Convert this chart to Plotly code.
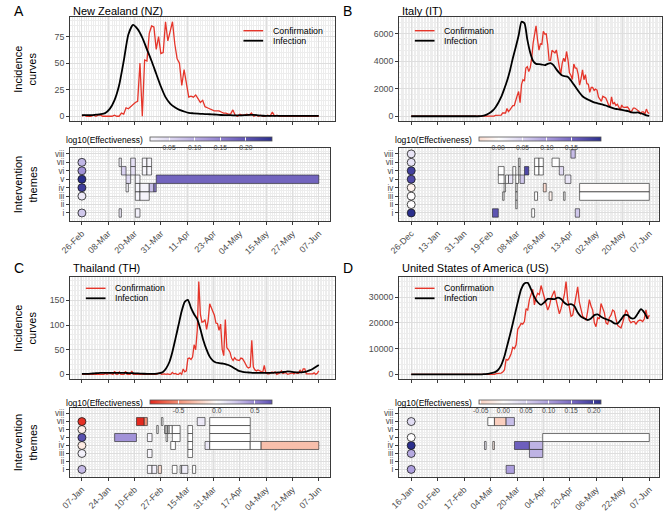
import plotly.graph_objects as go
import pandas as pd

W, H = 668, 517
FONT = "Liberation Sans, Arial, sans-serif"
RED = "#E5352A"
TXT_GRAY = "#4D4D4D"
THEME_LABELS = ["i", "ii", "iii", "iv", "v", "vi", "vii", "viii"]

# ---------------- New Zealand ----------------
NZ_NAME = "New Zealand (NZ)"
NZ_START, NZ_END = "2020-02-26", "2020-06-07"
NZ_XTICKS = ["26-Feb", "08-Mar", "20-Mar", "31-Mar", "11-Apr", "23-Apr", "04-May", "15-May", "27-May", "07-Jun"]
NZ_YTICKS = [0, 25, 50, 75]
NZ_CONF = [0, 1, 0, 0, 0, 1, 0, 1, 1, 0,
           0, 0, 0, 0, 1, 0, 0, 3, 2, 8,
           7, 9, 11, 13, 14, 50, 0, 53, 52, 78,
           85, 84, 63, 75, 59, 60, 89, 71, 80, 89,
           68, 54, 50, 29, 44, 29, 18, 19, 18, 20,
           16, 13, 15, 9, 8, 7, 6, 5, 5, 5,
           4, 3, 3, 2, 2, 6, 1, 0, 2, 1,
           1, 2, 1, 3, 0, 1, 0, 1, 0, 0,
           1, 0, 4, 0, 1, 0, 0, 0, 0, 0,
           0, 0, 0, 0, 0, 0, 0, 0, 0, 0,
           0, 0, 0]
NZ_INF = [1, 1, 1, 1.5, 2, 3, 7, 15, 29, 52,          # every second day
          77, 86, 82, 74, 63, 52, 40, 28, 18, 12,
          8.5, 6, 4.5, 3.2, 2.8, 2.5, 2.2, 2, 1.8, 1.5,
          1.2, 1, 1, 0.8, 0.8, 1, 1.3, 1.3, 0.8, 0.5,
          0.3, 0.3, 0.3, 0.3, 0.3, 0.3, 0.3, 0.3, 0.3, 0.3,
          0.3, 0.3]
NZ_POINT_THEMES = [1, 3, 4, 5, 6, 7]
NZ_POINT_EFF = [0.07, 0.03, 0.23, 0.25, 0.13, 0.09]
NZ_ITV = [  # (theme, start, end, log10 effectiveness)
    (7, "2020-03-13", "2020-03-14", 0.02), (7, "2020-03-18", "2020-03-20", 0.04),
    (6, "2020-03-18", "2020-03-20", 0.04), (7, "2020-03-23", "2020-03-25", 0.012),
    (7, "2020-03-25", "2020-03-27", 0.012), (6, "2020-03-23", "2020-03-25", 0.012),
    (6, "2020-03-25", "2020-03-27", 0.012), (6, "2020-03-14", "2020-03-16", 0.06),
    (5, "2020-03-16", "2020-03-18", 0.05), (4, "2020-03-16", "2020-03-17", 0.012),
    (5, "2020-03-20", "2020-03-22", 0.012), (4, "2020-03-20", "2020-03-22", 0.012),
    (3, "2020-03-20", "2020-03-22", 0.012), (4, "2020-03-22", "2020-03-26", 0.015),
    (3, "2020-03-22", "2020-03-26", 0.015), (4, "2020-03-26", "2020-03-28", 0.08),
    (4, "2020-03-28", "2020-03-29", 0.15), (5, "2020-03-29", "2020-06-07", 0.18),
    (1, "2020-03-13", "2020-03-14", 0.03), (1, "2020-03-20", "2020-03-22", 0.02),
]
NZ_CB_TICKS = [0.05, 0.10, 0.15, 0.20]
NZ_CB_LABELS = ["0.05", "0.10", "0.15", "0.20"]

# ---------------- Italy ----------------
IT_NAME = "Italy (IT)"
IT_START, IT_END = "2019-12-26", "2020-06-07"
IT_XTICKS = ["26-Dec", "13-Jan", "31-Jan", "19-Feb", "08-Mar", "26-Mar", "13-Apr", "02-May", "20-May", "07-Jun"]
IT_YTICKS = [0, 2000, 4000, 6000]
IT_CONF = [0, 0, 0, 0, 0, 0, 0, 0, 0, 0, 0, 0, 0, 0, 0, 0, 0, 0, 0, 0,
           0, 0, 0, 0, 0, 0, 0, 0, 0, 0, 0, 0, 0, 0, 0, 0,
           2, 0, 0, 0, 0, 0, 0, 1, 0, 0, 0, 0, 0, 0, 0, 0, 0, 0, 0, 0, 0,
           17, 59, 73, 77, 93, 78, 250, 238, 240,
           566, 342, 466, 587, 769, 778, 1247, 1492, 1797, 977, 2313, 2651, 2547, 3497, 3590, 3233,
           3526, 4207, 5322, 5986, 6557, 5560, 4789, 5249, 5210, 6153, 5959, 5974, 5217, 4050, 4053,
           4782, 4668, 4585, 4805, 4316, 3599, 3039, 3836, 4204, 3951, 4694, 4092, 3153, 2972, 2667,
           3786, 3493, 3491, 3047, 2256, 2729, 3370, 2646, 3021, 2357, 2324, 1739, 2091, 2086, 1872,
           1965, 1900, 1389, 1221, 1075, 1444, 1401, 1327, 1083, 802, 744, 1402, 888, 992, 789, 875,
           675, 451, 813, 665, 642, 652, 669, 531, 300, 397, 584, 593, 516, 416, 355,
           178, 318, 321, 177, 518, 270, 197]
IT_INF = [0, 0, 0, 0, 0, 0, 0, 0, 0, 0, 0, 0, 0, 0, 0, 0, 0, 0, 0, 0, 0, 0, 0, 0,
          15, 50, 120, 230, 400, 640, 980, 1400, 1950, 2550,
          3300, 4200, 5000, 5850, 6850, 6750, 5550, 4600, 4000, 3800,
          3780, 3750, 3700, 3800, 3850, 3700, 3400, 3150, 2950, 2900,
          2850, 2600, 2300, 2000, 1700, 1450, 1300, 1200, 1100, 1000,
          950, 900, 850, 780, 700, 620, 560, 520, 480, 440,
          400, 350, 280, 260, 280, 220, 150, 60, 30]
IT_POINT_THEMES = [1, 2, 3, 4, 5, 6, 7, 8]
IT_POINT_EFF = [0.21, 0.0, 0.0, -0.015, 0.18, 0.19, 0.03, 0.03]
IT_ITV = [
    (8, "2020-04-14", "2020-04-17", 0.07), (7, "2020-03-09", "2020-03-10", 0.0),
    (6, "2020-03-09", "2020-03-10", 0.0), (7, "2020-03-20", "2020-03-23", 0.0),
    (7, "2020-03-23", "2020-03-26", 0.0), (6, "2020-03-20", "2020-03-23", 0.0),
    (6, "2020-03-23", "2020-03-26", 0.0), (7, "2020-04-01", "2020-04-06", 0.0),
    (6, "2020-02-24", "2020-02-28", 0.0), (5, "2020-02-24", "2020-02-28", 0.0),
    (6, "2020-03-05", "2020-03-07", 0.0), (6, "2020-03-13", "2020-03-16", 0.18),
    (6, "2020-04-06", "2020-04-09", 0.04), (5, "2020-02-29", "2020-03-02", 0.0),
    (5, "2020-03-02", "2020-03-05", 0.03), (5, "2020-03-07", "2020-03-09", 0.0),
    (5, "2020-03-10", "2020-03-13", 0.06), (5, "2020-04-10", "2020-04-14", 0.03),
    (4, "2020-02-28", "2020-02-29", 0.0), (4, "2020-03-07", "2020-03-08", 0.0),
    (4, "2020-03-26", "2020-03-28", -0.04), (4, "2020-04-20", "2020-06-07", -0.003),
    (3, "2020-02-27", "2020-02-28", 0.0), (3, "2020-03-07", "2020-03-08", 0.0),
    (3, "2020-03-20", "2020-03-22", 0.0), (3, "2020-03-30", "2020-04-01", -0.015),
    (3, "2020-04-09", "2020-04-10", 0.0), (3, "2020-04-20", "2020-06-07", 0.0),
    (2, "2020-03-07", "2020-03-08", 0.0), (1, "2020-02-20", "2020-02-24", 0.17),
    (1, "2020-03-18", "2020-03-20", 0.0), (1, "2020-04-17", "2020-04-20", 0.06),
]
IT_CB_TICKS = [0.0, 0.05, 0.10, 0.15]
IT_CB_LABELS = ["0.00", "0.05", "0.10", "0.15"]

# ---------------- Thailand ----------------
TH_NAME = "Thailand (TH)"
TH_START, TH_END = "2020-01-07", "2020-06-07"
TH_XTICKS = ["07-Jan", "24-Jan", "10-Feb", "27-Feb", "15-Mar", "31-Mar", "17-Apr", "04-May", "21-May", "07-Jun"]
TH_YTICKS = [0, 50, 100, 150]
TH_CONF = [0, 0, 0, 0, 0, 0, 1, 0, 0, 0, 1, 0, 0, 0, 0, 2, 0, 1, 2, 1, 0, 6, 0, 0, 5,
           0, 0, 0, 6, 0, 0, 0, 7, 0, 0, 0, 1, 0, 1, 0, 0, 1, 0, 0, 0, 0, 0, 0, 0, 2, 3, 0, 1, 1,
           0, 1, 0, 0, 4, 1, 2, 0, 0, 3, 0, 11, 5, 7, 32, 33, 30, 35, 60, 50,
           89, 188, 122, 106, 107, 111, 91, 109, 143, 136, 127,
           120, 104, 103, 89, 102, 51, 38, 111, 54, 50, 45, 33, 28, 34, 30, 29, 28, 33, 32, 27,
           19, 15, 13, 15, 69, 15, 9, 7, 9, 7,
           6, 4, 18, 3, 1, 1, 3, 5, 3, 5, 0, 1, 3, 7, 2, 3, 3, 0, 1, 3,
           3, 1, 4, 2, 2, 9, 3, 11, 11, 1, 1,
           1, 1, 1, 3, 0, 2, 7]
TH_INF = [1, 1, 1, 1.5, 2, 2.5, 3, 3, 3, 3,
          3, 3, 3, 3, 3, 2.5, 2.5, 2, 2, 1.5,
          1.2, 1, 1, 1, 1.5, 2.5, 5, 12, 24, 45,
          72, 100, 128, 147, 151, 135, 122, 112, 92, 68,
          50, 36, 28, 24, 23, 22, 21, 19, 16, 12,
          8, 6, 4.5, 4, 3.5, 3, 3, 3, 3, 3,
          3, 3, 3.5, 4, 4, 5, 6, 5.5, 4.5, 4,
          4, 4.5, 5.5, 8, 11, 15, 19]
TH_POINT_THEMES = [1, 3, 4, 5, 6, 7]
TH_POINT_EFF = [0.3, 0.07, -0.1, 0.72, -0.08, -0.85]
TH_ITV = [
    (7, "2020-02-11", "2020-02-16", -0.88), (7, "2020-02-16", "2020-02-18", -0.5),
    (7, "2020-02-27", "2020-02-28", 0.0), (7, "2020-03-21", "2020-03-26", 0.1),
    (7, "2020-03-29", "2020-04-24", 0.0), (6, "2020-02-24", "2020-02-25", 0.0),
    (6, "2020-02-29", "2020-03-01", 0.0), (6, "2020-03-01", "2020-03-02", 0.0),
    (6, "2020-03-02", "2020-03-03", 0.0), (6, "2020-03-03", "2020-03-05", 0.0),
    (6, "2020-03-05", "2020-03-10", 0.0), (5, "2020-03-05", "2020-03-10", 0.0),
    (6, "2020-03-15", "2020-03-18", 0.0), (5, "2020-03-15", "2020-03-18", 0.0),
    (4, "2020-03-15", "2020-03-18", 0.0), (3, "2020-03-15", "2020-03-18", 0.0),
    (6, "2020-03-29", "2020-04-24", 0.0), (5, "2020-03-29", "2020-04-24", 0.0),
    (5, "2020-01-28", "2020-02-11", 0.45), (5, "2020-02-18", "2020-02-21", 0.04),
    (5, "2020-03-01", "2020-03-02", 0.0), (4, "2020-03-04", "2020-03-07", 0.0),
    (4, "2020-03-26", "2020-03-29", 0.1), (4, "2020-03-29", "2020-04-24", 0.0),
    (4, "2020-04-24", "2020-05-01", 0.0), (4, "2020-05-01", "2020-06-07", -0.3),
    (3, "2020-02-18", "2020-02-21", 0.04), (1, "2020-02-18", "2020-02-21", 0.04),
    (1, "2020-02-21", "2020-02-24", 0.07), (1, "2020-02-25", "2020-02-27", -0.15),
    (1, "2020-03-05", "2020-03-08", 0.0), (1, "2020-03-10", "2020-03-11", 0.0),
    (1, "2020-03-11", "2020-03-15", 0.08), (1, "2020-03-18", "2020-03-20", 0.0),
]
TH_CB_TICKS = [-0.5, 0.0, 0.5]
TH_CB_LABELS = ["-0.5", "0.0", "0.5"]

# ---------------- United States ----------------
US_NAME = "United States of America (US)"
US_START, US_END = "2020-01-16", "2020-06-07"
US_XTICKS = ["16-Jan", "01-Feb", "17-Feb", "04-Mar", "20-Mar", "04-Apr", "20-Apr", "06-May", "22-May", "07-Jun"]
US_YTICKS = [0, 10000, 20000, 30000]
US_CONF = [0, 0, 0, 0, 0, 0, 0, 0, 0, 0, 0, 0, 0, 0, 0, 0, 0, 0, 0, 0, 0, 0, 0, 0, 0,
           0, 0, 0, 0, 0, 0, 0, 0, 0, 0, 0, 0, 0, 0, 0, 0, 0, 0, 0, 0, 0, 0, 0, 0, 0, 0,
           300, 350, 400, 500, 900, 1700, 5800, 5500, 6500, 8000,
           10500, 10000, 11500, 17500, 18500, 19800, 19500, 20500, 25500, 25000,
           29000, 31000, 33000, 27000, 30000, 31500, 31000, 34500, 32000, 29000,
           27500, 25000, 26500, 29500, 31000, 32500, 29000, 26000, 23500, 25500,
           28500, 31000, 36000, 29000, 26000, 22500, 23000, 26500, 30000, 34000,
           28000, 25000, 22500, 22000, 21000, 24500, 29000, 26500, 25000, 20000,
           18500, 22000, 21500, 27500, 26000, 24000, 20000, 19500, 22000, 23000,
           25000, 24500, 21500, 19000, 18500, 18000, 20000, 22500, 25000, 24000,
           21000, 20000, 20500, 20500, 19500, 20500, 21000, 21000, 20500, 21500,
           25000, 21500, 23000]
US_INF = [0, 0, 0, 0, 0, 0, 0, 0, 0, 0, 0, 0, 0, 0, 0, 0, 0, 0, 0, 0, 0, 0,
          100, 200, 450, 800, 1600, 3500, 7000, 12000, 17000, 22500,
          28000, 33000, 35300, 35500, 33000, 30000, 28000, 27000, 28000, 29300,
          29300, 29200, 29800, 29300, 27800, 27000, 27300, 26500, 24000, 22400,
          21700, 21100, 21700, 23000, 23300, 22400, 21700, 21200, 20700, 19800,
          19800, 21300, 23000, 23000, 21800, 21800, 23500, 25300, 24000, 21500]
US_POINT_THEMES = [1, 3, 4, 5, 7]
US_POINT_EFF = [0.1, 0.09, 0.215, 0.0, 0.04]
US_ITV = [
    (7, "2020-03-02", "2020-03-06", 0.0), (7, "2020-03-06", "2020-03-13", -0.055),
    (7, "2020-03-13", "2020-03-18", 0.07), (5, "2020-04-04", "2020-06-07", 0.0),
    (4, "2020-02-29", "2020-03-01", 0.02), (4, "2020-03-05", "2020-03-06", -0.02),
    (4, "2020-03-18", "2020-03-27", 0.16), (4, "2020-03-27", "2020-04-04", 0.08),
    (3, "2020-03-27", "2020-04-04", 0.08), (1, "2020-03-13", "2020-03-18", 0.1),
]
US_CB_TICKS = [-0.05, 0.0, 0.05, 0.10, 0.15, 0.20]
US_CB_LABELS = ["-0.05", "0.00", "0.05", "0.10", "0.15", "0.20"]

PANELS = [
    dict(letter="A", name=NZ_NAME, start=NZ_START, end=NZ_END, xt=NZ_XTICKS, yt=NZ_YTICKS, conf=NZ_CONF,
         inf=NZ_INF, pth=NZ_POINT_THEMES, peff=NZ_POINT_EFF, itv=NZ_ITV, cbt=NZ_CB_TICKS, cbl=NZ_CB_LABELS,
         leg=(237, 257, 265, 30.7, 40.7)),
    dict(letter="B", name=IT_NAME, start=IT_START, end=IT_END, xt=IT_XTICKS, yt=IT_YTICKS, conf=IT_CONF,
         inf=IT_INF, pth=IT_POINT_THEMES, peff=IT_POINT_EFF, itv=IT_ITV, cbt=IT_CB_TICKS, cbl=IT_CB_LABELS,
         leg=(411, 431, 439, 30.7, 40.7)),
    dict(letter="C", name=TH_NAME, start=TH_START, end=TH_END, xt=TH_XTICKS, yt=TH_YTICKS, conf=TH_CONF,
         inf=TH_INF, pth=TH_POINT_THEMES, peff=TH_POINT_EFF, itv=TH_ITV, cbt=TH_CB_TICKS, cbl=TH_CB_LABELS,
         leg=(77, 97, 105, 288.3, 298.3)),
    dict(letter="D", name=US_NAME, start=US_START, end=US_END, xt=US_XTICKS, yt=US_YTICKS, conf=US_CONF,
         inf=US_INF, pth=US_POINT_THEMES, peff=US_POINT_EFF, itv=US_ITV, cbt=US_CB_TICKS, cbl=US_CB_LABELS,
         leg=(411, 431, 439, 288.3, 298.3)),
]

# ---------------- styling / geometry ----------------
STOPS = [(0.0, (228, 40, 30)), (0.125, (238, 105, 80)), (0.25, (245, 160, 135)), (0.375, (250, 208, 192)),
         (0.5, (255, 255, 255)), (0.625, (214, 207, 238)), (0.75, (165, 150, 217)), (0.875, (108, 94, 188)),
         (1.0, (42, 46, 140))]


def interp_color(t):
    t = min(1.0, max(0.0, t))
    for (t0, c0), (t1, c1) in zip(STOPS[:-1], STOPS[1:]):
        if t <= t1:
            f = (t - t0) / (t1 - t0)
            return "rgb(%d,%d,%d)" % tuple(round(a + (b - a) * f) for a, b in zip(c0, c1))
    return "rgb(%d,%d,%d)" % STOPS[-1][1]


def eff_color(v, lo, hi):
    m = max(abs(lo), abs(hi))
    return interp_color(0.5 + v / (2 * m))


def px_x(a):
    return a / W


def px_y(a):
    return 1 - a / H


def fmt(ts):
    return ts.strftime("%Y-%m-%d %H:%M:%S")


COL_OFF = [0, 334]
TOP_XDOM = [(61, 330), (395, 662)]
BOT_XDOM = [(61, 325), (395, 659)]
TICK_PX = [(73, 313.5), (407.3, 649)]
TOP_YDOM = [(17, 121), (277, 379)]
BOT_YDOM = [(148, 221), (408, 477)]
CB_TOP = [136.5, 399.5]
CB_TITLE_Y = [139.5, 402.5]
TITLE_Y = [11, 268]
MAJOR = "#DEDEDE"
MINOR = "#EDEDED"
FRAME = "#3A3A3A"

fig = go.Figure()
layout = dict(width=W, height=H, margin=dict(l=0, r=0, t=0, b=0), autosize=False,
              paper_bgcolor="white", plot_bgcolor="white", showlegend=False,
              font=dict(family=FONT, size=9, color="black"))
shapes, annotations = [], []

for k, p in enumerate(PANELS):
    col, row = k % 2, k // 2
    it, ib = 2 * k + 1, 2 * k + 2
    xt_ref = "x" if it == 1 else "x%d" % it
    yt_ref = "y" if it == 1 else "y%d" % it
    xb_ref, yb_ref = "x%d" % ib, "y%d" % ib
    ts0, ts1 = pd.Timestamp(p["start"]), pd.Timestamp(p["end"])
    span = ts1 - ts0
    tickvals = [fmt(ts0 + span * i / 9) for i in range(10)]
    t0px, t1px = TICK_PX[col]
    ppd = (t1px - t0px) / span.days

    def xrange(dom):
        return [fmt(ts0 - pd.Timedelta(days=(t0px - dom[0]) / ppd)),
                fmt(ts1 + pd.Timedelta(days=(dom[1] - t1px) / ppd))]

    # --- incidence curves ---
    conf_dates = pd.date_range(p["start"], periods=len(p["conf"]), freq="D")
    inf_dates = pd.date_range(p["start"], periods=len(p["inf"]), freq="2D")
    fig.add_trace(go.Scatter(x=conf_dates, y=p["conf"], mode="lines", name="Confirmation",
                             line=dict(color=RED, width=1.3), xaxis=xt_ref, yaxis=yt_ref))
    fig.add_trace(go.Scatter(x=inf_dates, y=p["inf"], mode="lines", name="Infection",
                             line=dict(color="black", width=1.8, shape="spline", smoothing=0.6),
                             xaxis=xt_ref, yaxis=yt_ref))
    ymax = max(max(p["conf"]), max(p["inf"]))

    # --- interventions ---
    all_eff = list(p["peff"]) + [e for _, _, _, e in p["itv"]]
    lo, hi = min(all_eff), max(all_eff)
    cs = [[i / 30, eff_color(lo + (hi - lo) * i / 30, lo, hi)] for i in range(31)]
    fig.add_trace(go.Scatter(
        x=[p["start"]] * len(p["pth"]), y=p["pth"], mode="markers", cliponaxis=False,
        marker=dict(size=8, color=p["peff"], colorscale=cs, cmin=lo, cmax=hi,
                    line=dict(color="#1A1A1A", width=0.8), showscale=True,
                    colorbar=dict(orientation="h", x=px_x(141.7 + COL_OFF[col]), xanchor="left",
                                  y=px_y(CB_TOP[row]), yanchor="top", len=121.6, lenmode="pixels",
                                  thickness=4.2, thicknessmode="pixels", xpad=0, ypad=0,
                                  outlinewidth=0.8, outlinecolor="#555555", borderwidth=0,
                                  tickvals=p["cbt"], ticktext=p["cbl"], ticks="inside", ticklen=4,
                                  tickcolor="white", tickwidth=0.8,
                                  tickfont=dict(size=6.8, color=TXT_GRAY, family=FONT))),
        xaxis=xb_ref, yaxis=yb_ref))
    for theme, s, e, eff in p["itv"]:
        shapes.append(dict(type="rect", xref=xb_ref, yref=yb_ref, x0=s, x1=e, y0=theme - 0.5, y1=theme + 0.5,
                           fillcolor=eff_color(eff, lo, hi), line=dict(color="rgba(40,40,40,0.8)", width=0.8),
                           layer="between"))

    # --- axes ---
    common_x = dict(type="date", tickvals=tickvals, ticks="outside", ticklen=3, tickcolor=FRAME, tickwidth=0.8,
                    showline=True, mirror=True, linecolor=FRAME, linewidth=1, zeroline=False,
                    showgrid=True, gridcolor=MAJOR, gridwidth=0.8,
                    minor=dict(dtick=86400000, showgrid=True, gridcolor=MINOR, gridwidth=0.6))
    xa_top = dict(common_x, domain=[px_x(TOP_XDOM[col][0]), px_x(TOP_XDOM[col][1])],
                  range=xrange(TOP_XDOM[col]), showticklabels=False, anchor=yt_ref)
    xa_bot = dict(common_x, domain=[px_x(BOT_XDOM[col][0]), px_x(BOT_XDOM[col][1])],
                  range=xrange(BOT_XDOM[col]), ticktext=p["xt"], tickangle=-45,
                  tickfont=dict(size=8.8, color=TXT_GRAY), anchor=yb_ref)
    ystep = p["yt"][1] - p["yt"][0]
    ya_top = dict(domain=[px_y(TOP_YDOM[row][1]), px_y(TOP_YDOM[row][0])], range=[-0.05 * ymax, 1.05 * ymax],
                  tickvals=p["yt"], ticktext=[str(v) for v in p["yt"]], ticks="outside", ticklen=3,
                  tickcolor=FRAME, tickwidth=0.8, tickfont=dict(size=8.8, color=TXT_GRAY),
                  showline=True, mirror=True, linecolor=FRAME, linewidth=1, zeroline=False,
                  showgrid=True, gridcolor=MAJOR, gridwidth=0.8,
                  minor=dict(dtick=ystep / 5, showgrid=True, gridcolor=MINOR, gridwidth=0.6), anchor=xt_ref)
    ya_bot = dict(domain=[px_y(BOT_YDOM[row][1]), px_y(BOT_YDOM[row][0])], range=[0.05, 8.7],
                  tickvals=list(range(1, 9)), ticktext=THEME_LABELS, ticks="outside", ticklen=3,
                  tickcolor=FRAME, tickwidth=0.8, tickfont=dict(size=8.2, color=TXT_GRAY),
                  showline=True, mirror=True, linecolor=FRAME, linewidth=1, zeroline=False,
                  showgrid=True, gridcolor=MAJOR, gridwidth=0.8,
                  minor=dict(dtick=1 / 3, tick0=0, showgrid=True, gridcolor=MINOR, gridwidth=0.6), anchor=xb_ref)
    layout["xaxis" if it == 1 else "xaxis%d" % it] = xa_top
    layout["yaxis" if it == 1 else "yaxis%d" % it] = ya_top
    layout["xaxis%d" % ib] = xa_bot
    layout["yaxis%d" % ib] = ya_bot

    # --- texts ---
    annotations.append(dict(text=p["letter"], x=px_x(9 + COL_OFF[col]), y=px_y(TITLE_Y[row]), xref="paper",
                            yref="paper", showarrow=False, xanchor="center", yanchor="middle",
                            font=dict(size=14, color="black")))
    annotations.append(dict(text=p["name"], x=px_x(TOP_XDOM[col][0] + 1), y=px_y(TITLE_Y[row]), xref="paper",
                            yref="paper", showarrow=False, xanchor="left", yanchor="middle",
                            font=dict(size=11, color="black")))
    annotations.append(dict(text="log10(Effectiveness)", x=px_x(137 + COL_OFF[col]), y=px_y(CB_TITLE_Y[row]),
                            xref="paper", yref="paper", showarrow=False, xanchor="right", yanchor="middle",
                            font=dict(size=8.5, color="black")))
    lx0, lx1, tx, ly1, ly2 = p["leg"]
    for ly, lab, colr, lw in [(ly1, "Confirmation", RED, 1.4), (ly2, "Infection", "black", 1.8)]:
        shapes.append(dict(type="line", xref="paper", yref="paper", x0=px_x(lx0), x1=px_x(lx1),
                           y0=px_y(ly), y1=px_y(ly), line=dict(color=colr, width=lw)))
        annotations.append(dict(text=lab, x=px_x(tx), y=px_y(ly), xref="paper", yref="paper", showarrow=False,
                                xanchor="left", yanchor="middle", font=dict(size=8.8, color="black")))
    if col == 0:
        for (a, b), lab in [(TOP_YDOM[row], "Incidence<br>curves"), (BOT_YDOM[row], "Intervention<br>themes")]:
            annotations.append(dict(text=lab, x=px_x(15), y=px_y((a + b) / 2), xref="paper", yref="paper",
                                    showarrow=False, textangle=-90, xanchor="center", yanchor="middle",
                                    font=dict(size=11, color="black")))

layout["shapes"] = shapes
layout["annotations"] = annotations
fig.update_layout(**layout)
fig.write_html("out.html", config={"displayModeBar": False},
               post_script="document.body.style.margin='0';")
